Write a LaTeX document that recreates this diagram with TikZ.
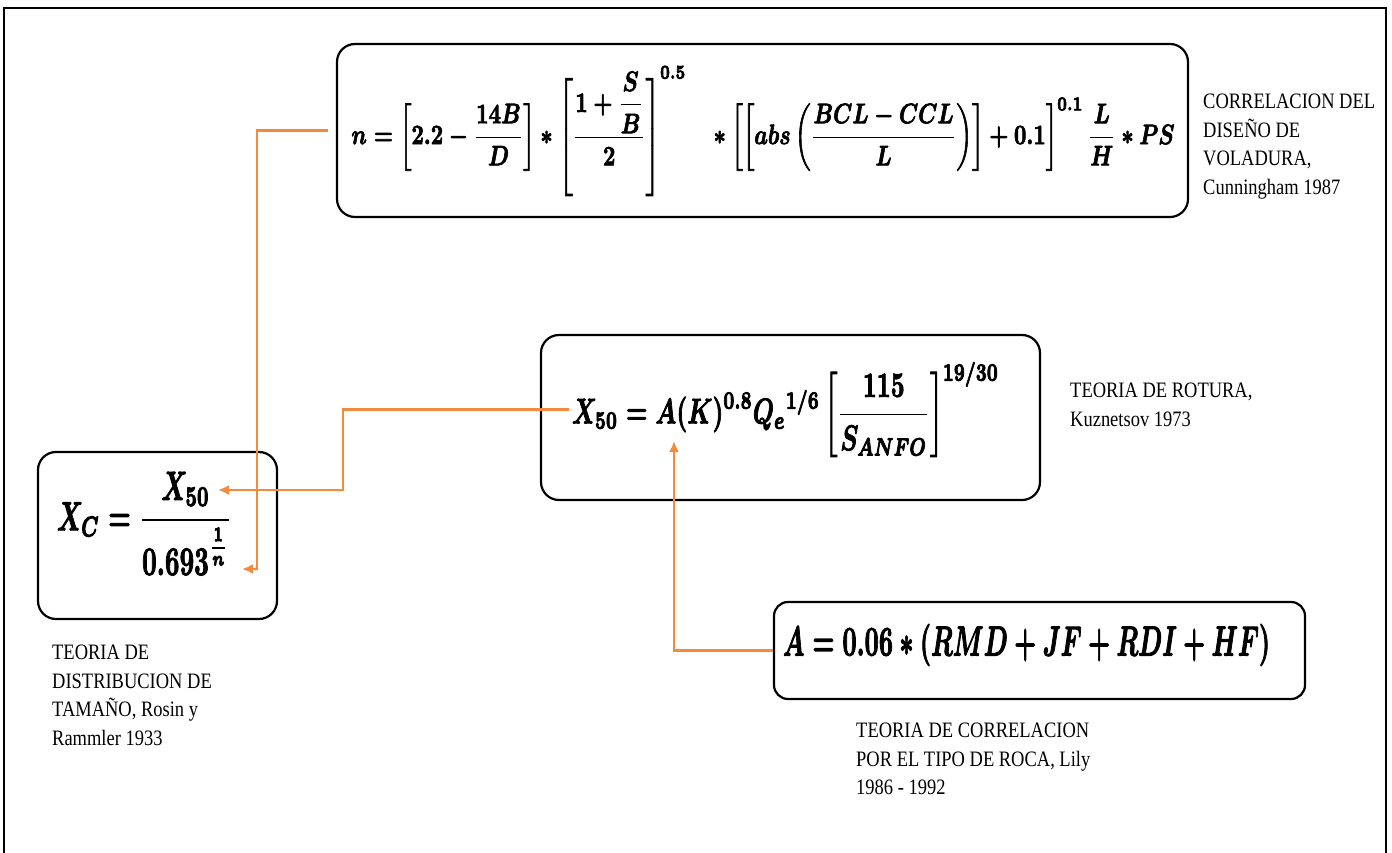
\documentclass[tikz,border=0pt]{standalone}
\usepackage{amsmath}
\usepackage{bm}
\usepackage{graphicx}
\usepackage{fontspec}
\newfontfamily\notefont[FakeStretch=0.84]{Liberation Serif}
\usetikzlibrary{arrows.meta}
\definecolor{linkorange}{RGB}{245,137,60}

% heavier glyphs: fill and stroke the outlines
\newcommand\heavyset[1]{\special{pdf:literal direct 2 Tr 0.28 w 1 j}#1\special{pdf:literal direct 0 Tr}}
\newcommand\formula[3]{\resizebox*{#1}{#2}{\heavyset{\boldmath$\displaystyle #3$}}}

\begin{document}
\begin{tikzpicture}[x=1pt,y=-1pt,
  eqbox/.style={draw, line width=2.2pt, rounded corners=18pt, inner sep=0},
  eq/.style={inner sep=0},
  note/.style={inner sep=0, anchor=north west, align=left,
    font=\notefont\fontsize{22}{28.5}\selectfont},
  link/.style={draw=linkorange, line width=2.4pt},
  tip/.style={-{Latex[length=11pt,width=10pt]}}]

\useasboundingbox (0,0) rectangle (1392,853);

% page frame
\draw[line width=2.4pt] (4,853) -- (4,8) -- (1386,8) -- (1386,853);

% formula boxes
\node[eqbox, minimum width=851pt, minimum height=173pt] (boxn) at (762.5,130.5) {};
\node[eqbox, minimum width=499pt, minimum height=165pt] (boxx50) at (790.5,417.5) {};
\node[eqbox, minimum width=239pt, minimum height=167pt] (boxxc) at (157.5,535.5) {};
\node[eqbox, rounded corners=14pt, minimum width=531pt, minimum height=97pt] (boxa) at (1039.5,650.5) {};

% formulas
\node[eq] (eqn) at (763,131) {\formula{823pt}{130pt}{
  n=\left[2.2-\frac{14B}{D}\right]\ast\left[\frac{1+\dfrac{S}{B}}{2}\right]^{0.5}
  \quad\ast\left[\left[abs\left(\frac{BCL-CCL}{L}\right)\right]+0.1\right]^{0.1}
  \frac{L}{H}\ast PS}};
\node[eq] (eqx50) at (785.5,409.5) {\formula{427pt}{95pt}{
  X_{50}=A(K)^{0.8}Q_e{}^{1/6}\left[\frac{115}{S_{ANFO}}\right]^{19/30}}};
\node[eq] (eqxc) at (144.5,523.5) {\formula{175pt}{103pt}{
  X_C=\frac{X_{50}}{0.693^{\frac{\mathstrut 1}{\mathstrut n}}}}};
\node[eq] (eqa) at (1026.5,645) {\formula{487pt}{42pt}{
  A=0.06\ast(RMD+JF+RDI+HF)}};

% captions
\node[note] (note-n) at (1203,94) {CORRELACION DEL\\DISEÑO DE\\VOLADURA,\\Cunningham 1987};
\node[note] (note-x50) at (1070,383) {TEORIA DE ROTURA,\\Kuznetsov 1973};
\node[note] (note-xc) at (52,645) {TEORIA DE\\DISTRIBUCION DE\\TAMAÑO, Rosin y\\Rammler 1933};
\node[note] (note-a) at (856,723) {TEORIA DE CORRELACION\\POR EL TIPO DE ROCA, Lily\\1986 - 1992};

% link end points
\coordinate (xc-top) at (218,490);
\coordinate (xc-bot) at (242,569);
\coordinate (nbend) at (257,569);
\coordinate (xbend) at (343,490);
\coordinate (a-in) at (674,441);

% links
\draw[link, tip, shorten <=8pt] (boxn.west) -| (nbend) -- (xc-bot);
\draw[link, tip, shorten <=3pt] (eqx50.west) -| (xbend) -- (xc-top);
\draw[link, tip] (boxa.west) -| (a-in);
\end{tikzpicture}
\end{document}
